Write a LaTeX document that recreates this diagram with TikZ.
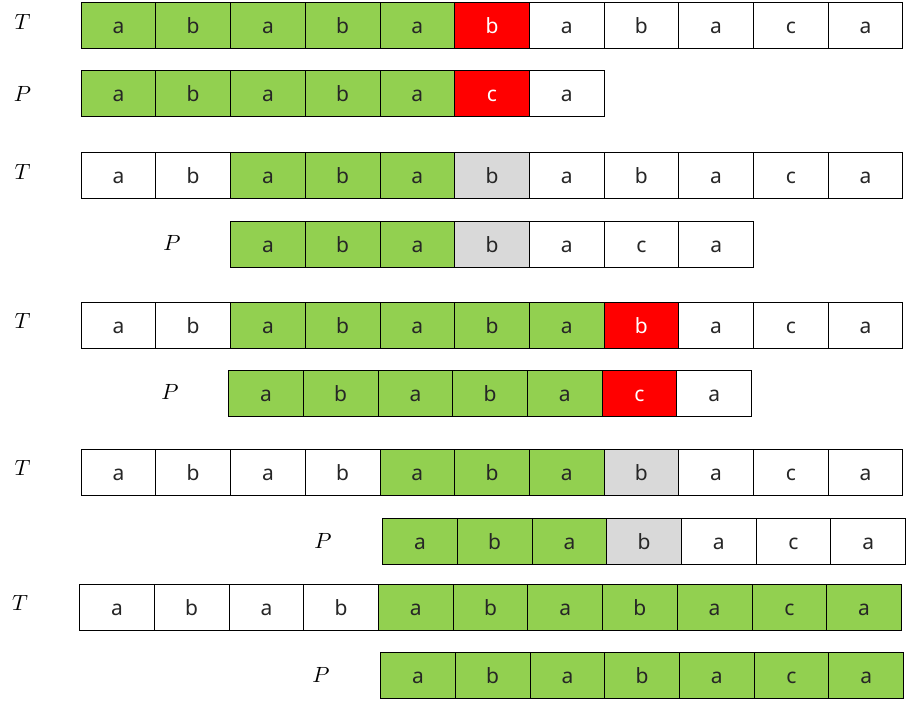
\documentclass[tikz,border=0pt]{standalone}
\usepackage{fontspec}
\setsansfont{Noto Sans}
\definecolor{hitgreen}{HTML}{92D050}
\definecolor{missred}{HTML}{FF0000}
\definecolor{skipgray}{HTML}{D9D9D9}
\tikzset{
  cell/.style={draw, line width=0.9pt, minimum width=74.7pt, minimum height=46pt, inner sep=0pt,
    text height=16pt, text depth=0pt,
    font=\sffamily\fontsize{21}{24}\selectfont, text=black!85},
  hit/.style={cell, fill=hitgreen},
  miss/.style={cell, fill=missred, text=white},
  skip/.style={cell, fill=skipgray},
  lab/.style={scale=2.2}
}
\begin{document}
\begin{tikzpicture}[x=1pt, y=-1pt]
\useasboundingbox (0,0) rectangle (906,705);
% step 1
\begin{scope}[shift={(118.5,25)}]
\node[lab] (lt) at (-96,-3) {$T$};
\node[hit] (t1) at (0,0) {a};
\node[hit] (t2) at (74.7,0) {b};
\node[hit] (t3) at (149.4,0) {a};
\node[hit] (t4) at (224.1,0) {b};
\node[hit] (t5) at (298.8,0) {a};
\node[miss] (t6) at (373.5,0) {b};
\node[cell] (t7) at (448.2,0) {a};
\node[cell] (t8) at (522.9,0) {b};
\node[cell] (t9) at (597.6,0) {a};
\node[cell] (t10) at (672.3,0) {c};
\node[cell] (t11) at (747,0) {a};
\end{scope}
\begin{scope}[shift={(118.5,93)}]
\node[lab] (lp) at (-96,1) {$P$};
\node[hit] (p1) at (0,0) {a};
\node[hit] (p2) at (74.7,0) {b};
\node[hit] (p3) at (149.4,0) {a};
\node[hit] (p4) at (224.1,0) {b};
\node[hit] (p5) at (298.8,0) {a};
\node[miss] (p6) at (373.5,0) {c};
\node[cell] (p7) at (448.2,0) {a};
\end{scope}
% step 2
\begin{scope}[shift={(118.5,175)}]
\node[lab] (lt) at (-96,-3) {$T$};
\node[cell] (t1) at (0,0) {a};
\node[cell] (t2) at (74.7,0) {b};
\node[hit] (t3) at (149.4,0) {a};
\node[hit] (t4) at (224.1,0) {b};
\node[hit] (t5) at (298.8,0) {a};
\node[skip] (t6) at (373.5,0) {b};
\node[cell] (t7) at (448.2,0) {a};
\node[cell] (t8) at (522.9,0) {b};
\node[cell] (t9) at (597.6,0) {a};
\node[cell] (t10) at (672.3,0) {c};
\node[cell] (t11) at (747,0) {a};
\end{scope}
\begin{scope}[shift={(268,244)}]
\node[lab] (lp) at (-96,-1) {$P$};
\node[hit] (p1) at (0,0) {a};
\node[hit] (p2) at (74.7,0) {b};
\node[hit] (p3) at (149.4,0) {a};
\node[skip] (p4) at (224.1,0) {b};
\node[cell] (p5) at (298.8,0) {a};
\node[cell] (p6) at (373.5,0) {c};
\node[cell] (p7) at (448.2,0) {a};
\end{scope}
% step 3
\begin{scope}[shift={(118.5,325)}]
\node[lab] (lt) at (-96,-4) {$T$};
\node[cell] (t1) at (0,0) {a};
\node[cell] (t2) at (74.7,0) {b};
\node[hit] (t3) at (149.4,0) {a};
\node[hit] (t4) at (224.1,0) {b};
\node[hit] (t5) at (298.8,0) {a};
\node[hit] (t6) at (373.5,0) {b};
\node[hit] (t7) at (448.2,0) {a};
\node[miss] (t8) at (522.9,0) {b};
\node[cell] (t9) at (597.6,0) {a};
\node[cell] (t10) at (672.3,0) {c};
\node[cell] (t11) at (747,0) {a};
\end{scope}
\begin{scope}[shift={(266,393)}]
\node[lab] (lp) at (-96,-1) {$P$};
\node[hit] (p1) at (0,0) {a};
\node[hit] (p2) at (74.7,0) {b};
\node[hit] (p3) at (149.4,0) {a};
\node[hit] (p4) at (224.1,0) {b};
\node[hit] (p5) at (298.8,0) {a};
\node[miss] (p6) at (373.5,0) {c};
\node[cell] (p7) at (448.2,0) {a};
\end{scope}
% step 4
\begin{scope}[shift={(118.5,472)}]
\node[lab] (lt) at (-96,-4) {$T$};
\node[cell] (t1) at (0,0) {a};
\node[cell] (t2) at (74.7,0) {b};
\node[cell] (t3) at (149.4,0) {a};
\node[cell] (t4) at (224.1,0) {b};
\node[hit] (t5) at (298.8,0) {a};
\node[hit] (t6) at (373.5,0) {b};
\node[hit] (t7) at (448.2,0) {a};
\node[skip] (t8) at (522.9,0) {b};
\node[cell] (t9) at (597.6,0) {a};
\node[cell] (t10) at (672.3,0) {c};
\node[cell] (t11) at (747,0) {a};
\end{scope}
\begin{scope}[shift={(420,541)}]
\node[lab] (lp) at (-97,0) {$P$};
\node[hit] (p1) at (0,0) {a};
\node[hit] (p2) at (74.7,0) {b};
\node[hit] (p3) at (149.4,0) {a};
\node[skip] (p4) at (224.1,0) {b};
\node[cell] (p5) at (298.8,0) {a};
\node[cell] (p6) at (373.5,0) {c};
\node[cell] (p7) at (448.2,0) {a};
\end{scope}
% step 5
\begin{scope}[shift={(117,607)}]
\node[lab] (lt) at (-97,-4) {$T$};
\node[cell] (t1) at (0,0) {a};
\node[cell] (t2) at (74.7,0) {b};
\node[cell] (t3) at (149.4,0) {a};
\node[cell] (t4) at (224.1,0) {b};
\node[hit] (t5) at (298.8,0) {a};
\node[hit] (t6) at (373.5,0) {b};
\node[hit] (t7) at (448.2,0) {a};
\node[hit] (t8) at (522.9,0) {b};
\node[hit] (t9) at (597.6,0) {a};
\node[hit] (t10) at (672.3,0) {c};
\node[hit] (t11) at (747,0) {a};
\end{scope}
\begin{scope}[shift={(418,675)}]
\node[lab] (lp) at (-97,0) {$P$};
\node[hit] (p1) at (0,0) {a};
\node[hit] (p2) at (74.7,0) {b};
\node[hit] (p3) at (149.4,0) {a};
\node[hit] (p4) at (224.1,0) {b};
\node[hit] (p5) at (298.8,0) {a};
\node[hit] (p6) at (373.5,0) {c};
\node[hit] (p7) at (448.2,0) {a};
\end{scope}
\end{tikzpicture}
\end{document}
